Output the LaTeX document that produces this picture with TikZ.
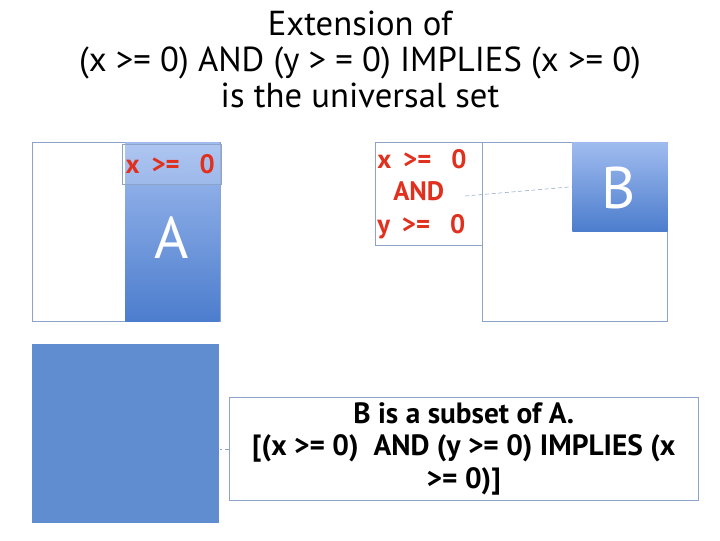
\documentclass[tikz,border=0pt]{standalone}
\usepackage{fontspec}
\setmainfont{PT Sans}
\usetikzlibrary{positioning}
\definecolor{edgeblue}{HTML}{8EA3C8}
\definecolor{setblue}{HTML}{5F8DD0}
\definecolor{toplight}{HTML}{A0BCEF}
\definecolor{botdark}{HTML}{4C7DCD}
\definecolor{condred}{HTML}{E0301E}
\tikzset{every node/.append style={inner sep=0pt}}
\tikzset{univ/.style={draw=edgeblue,anchor=north west}}
\tikzset{subset/.style={anchor=north west,top color=toplight,bottom color=botdark}}
\tikzset{cond/.style={draw=edgeblue,anchor=north west,text=condred,align=left,inner xsep=2.5pt,
  font=\fontsize{20}{24.4}\selectfont\bfseries}}
\tikzset{setname/.style={text=white,font=\fontsize{44}{48}\selectfont}}
\newcommand{\geqzero}[1]{#1\hspace{0.45em}>=\hspace{0.75em}0}

\begin{document}
\begin{tikzpicture}[x=0.75pt,y=-0.75pt]
  \useasboundingbox (0,0) rectangle (720,540);
  % title
  \node[align=center,font=\fontsize{26}{27}\selectfont] (title) at (360,59)
    {Extension of\\(x >= 0) AND (y > = 0) IMPLIES (x >= 0)\\is the universal set};
  % left: set A
  \node[univ,minimum width=141pt,minimum height=134.25pt] (univA) at (32,142) {};
  \node[subset,minimum width=70.5pt,minimum height=134.25pt] (setA) at (125,142) {};
  \node[setname] (nameA) at (172,238) {A};
  \node[cond,fill=white,fill opacity=.15,text opacity=1,text width=69.25pt,minimum height=30pt] (condA) at (122,144)
    {\geqzero{x}};
  % right: set B
  \node[univ,minimum width=138.75pt,minimum height=134.25pt] (univB) at (482,142) {};
  \node[subset,minimum width=71.25pt,minimum height=66.75pt] (setB) at (572,142) {};
  \node[setname] (nameB) at (619,188) {B};
  \node[cond,fill=white,text width=77.25pt,minimum height=77.25pt,inner xsep=1.5pt] (condB) at (375,142)
    {\geqzero{x}\\\hspace{0.6em}AND\\\geqzero{y}};
  \coordinate (andEnd) at (465,196);
  \draw[edgeblue,densely dashed] (andEnd) -- (setB.west);
  % bottom: result
  \node[anchor=north west,fill=setblue,minimum width=140.25pt,minimum height=134.25pt] (setR) at (32,344) {};
  \node[draw=edgeblue,anchor=north west,minimum width=351.75pt,minimum height=77.25pt,align=center,
    font=\fontsize{22}{24.4}\selectfont\bfseries] (result) at (229,397)
    {B is a subset of A.\\{}[(x >= 0)\ \ AND (y >= 0) IMPLIES (x\\>= 0)]};
  \draw[edgeblue,densely dashed] (result.west) -- (result.west -| setR.east);
\end{tikzpicture}
\end{document}
